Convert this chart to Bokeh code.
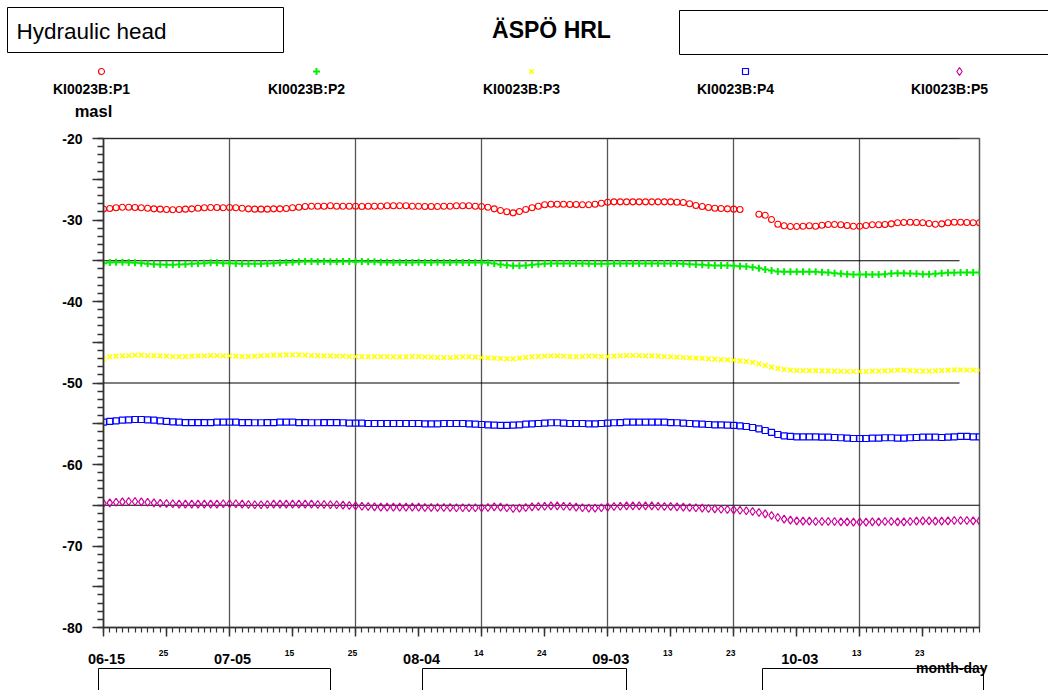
import numpy as np
import pandas as pd
from bokeh.plotting import figure
from bokeh.layouts import column
from bokeh.models import FixedTicker, Range1d, ColumnDataSource
from bokeh.core.properties import value
from bokeh.embed import file_html
from bokeh.resources import INLINE

# ---------------------------------------------------------------- data
start_date = "2003-06-15"
n_days = 140
dates = pd.date_range(start_date, periods=n_days, freq="D")

series_names = ["KI0023B:P1", "KI0023B:P2", "KI0023B:P3", "KI0023B:P4", "KI0023B:P5"]

nan = float("nan")
p1 = [-28.65, -28.59, -28.50, -28.43, -28.43, -28.47, -28.50, -28.55, -28.63, -28.67,
      -28.71, -28.75, -28.71, -28.67, -28.63, -28.55, -28.50, -28.47, -28.47, -28.50,
      -28.47, -28.50, -28.55, -28.63, -28.67, -28.67, -28.67, -28.63, -28.63, -28.59,
      -28.50, -28.43, -28.34, -28.31, -28.31, -28.31, -28.26, -28.31, -28.31, -28.31,
      -28.31, -28.34, -28.31, -28.31, -28.31, -28.26, -28.26, -28.26, -28.26, -28.31,
      -28.31, -28.34, -28.34, -28.34, -28.31, -28.31, -28.26, -28.26, -28.26, -28.31,
      -28.34, -28.43, -28.63, -28.83, -28.99, -29.12, -28.96, -28.71, -28.50, -28.31,
      -28.13, -28.06, -28.06, -28.06, -28.10, -28.10, -28.13, -28.13, -28.06, -27.94,
      -27.82, -27.77, -27.77, -27.77, -27.77, -27.77, -27.77, -27.77, -27.77, -27.77,
      -27.77, -27.82, -27.85, -28.01, -28.22, -28.34, -28.47, -28.55, -28.59, -28.63,
      -28.67, -28.71, nan, nan, -29.29, -29.41, -29.94, -30.52, -30.71, -30.80,
      -30.80, -30.76, -30.71, -30.76, -30.64, -30.55, -30.55, -30.59, -30.67, -30.76,
      -30.76, -30.67, -30.59, -30.59, -30.55, -30.47, -30.34, -30.31, -30.27, -30.31,
      -30.34, -30.43, -30.52, -30.47, -30.34, -30.27, -30.27, -30.31, -30.34, -30.34]

p2 = [-35.30, -35.21, -35.18, -35.18, -35.21, -35.25, -35.30, -35.37, -35.42, -35.46,
      -35.50, -35.50, -35.46, -35.42, -35.37, -35.34, -35.30, -35.25, -35.25, -35.30,
      -35.30, -35.34, -35.37, -35.37, -35.37, -35.37, -35.34, -35.30, -35.25, -35.21,
      -35.18, -35.13, -35.09, -35.09, -35.13, -35.09, -35.13, -35.13, -35.09, -35.09,
      -35.13, -35.09, -35.13, -35.13, -35.18, -35.18, -35.21, -35.18, -35.21, -35.21,
      -35.18, -35.21, -35.21, -35.18, -35.21, -35.21, -35.18, -35.21, -35.21, -35.21,
      -35.21, -35.25, -35.34, -35.46, -35.54, -35.62, -35.62, -35.58, -35.50, -35.42,
      -35.37, -35.34, -35.34, -35.34, -35.34, -35.34, -35.34, -35.37, -35.37, -35.37,
      -35.37, -35.34, -35.34, -35.34, -35.34, -35.34, -35.34, -35.34, -35.34, -35.34,
      -35.34, -35.34, -35.37, -35.42, -35.46, -35.50, -35.54, -35.58, -35.58, -35.58,
      -35.62, -35.67, -35.71, -35.79, -35.91, -36.07, -36.20, -36.32, -36.36, -36.36,
      -36.36, -36.36, -36.36, -36.36, -36.40, -36.44, -36.53, -36.60, -36.65, -36.69,
      -36.69, -36.69, -36.69, -36.69, -36.65, -36.56, -36.53, -36.53, -36.56, -36.60,
      -36.65, -36.65, -36.60, -36.53, -36.48, -36.48, -36.44, -36.44, -36.44, -36.44]

p3 = [-47.03, -46.79, -46.71, -46.66, -46.63, -46.59, -46.59, -46.63, -46.63, -46.66,
      -46.71, -46.75, -46.75, -46.75, -46.71, -46.66, -46.66, -46.63, -46.63, -46.66,
      -46.66, -46.71, -46.75, -46.75, -46.71, -46.66, -46.63, -46.59, -46.59, -46.54,
      -46.54, -46.54, -46.59, -46.63, -46.63, -46.66, -46.66, -46.71, -46.71, -46.75,
      -46.75, -46.75, -46.79, -46.75, -46.75, -46.75, -46.79, -46.79, -46.79, -46.75,
      -46.75, -46.79, -46.83, -46.87, -46.87, -46.87, -46.83, -46.79, -46.79, -46.83,
      -46.87, -46.91, -46.96, -46.99, -47.03, -47.03, -46.96, -46.87, -46.79, -46.75,
      -46.71, -46.66, -46.66, -46.71, -46.75, -46.79, -46.75, -46.71, -46.71, -46.75,
      -46.75, -46.71, -46.66, -46.63, -46.63, -46.63, -46.66, -46.66, -46.71, -46.75,
      -46.79, -46.83, -46.87, -46.91, -46.96, -46.99, -47.03, -47.08, -47.12, -47.15,
      -47.20, -47.28, -47.36, -47.48, -47.64, -47.85, -48.06, -48.22, -48.34, -48.43,
      -48.47, -48.47, -48.47, -48.47, -48.50, -48.50, -48.55, -48.55, -48.59, -48.59,
      -48.59, -48.59, -48.55, -48.55, -48.50, -48.47, -48.43, -48.43, -48.47, -48.50,
      -48.55, -48.55, -48.50, -48.47, -48.43, -48.38, -48.38, -48.43, -48.43, -48.43]

p4 = [-54.81, -54.72, -54.64, -54.56, -54.52, -54.48, -54.48, -54.52, -54.56, -54.64,
      -54.72, -54.76, -54.81, -54.85, -54.85, -54.85, -54.85, -54.85, -54.81, -54.81,
      -54.81, -54.81, -54.85, -54.85, -54.88, -54.88, -54.85, -54.85, -54.81, -54.81,
      -54.81, -54.85, -54.85, -54.88, -54.88, -54.85, -54.85, -54.85, -54.88, -54.93,
      -54.93, -54.93, -54.97, -54.97, -54.97, -54.97, -54.97, -54.97, -54.97, -54.97,
      -54.97, -55.01, -55.01, -55.01, -54.97, -54.97, -54.97, -54.97, -55.01, -55.05,
      -55.09, -55.13, -55.18, -55.21, -55.21, -55.18, -55.13, -55.05, -55.01, -54.97,
      -54.93, -54.88, -54.88, -54.93, -54.97, -54.97, -54.97, -55.01, -55.01, -54.97,
      -54.93, -54.88, -54.85, -54.81, -54.81, -54.81, -54.81, -54.81, -54.81, -54.81,
      -54.85, -54.88, -54.93, -54.97, -55.01, -55.05, -55.09, -55.13, -55.13, -55.18,
      -55.21, -55.25, -55.34, -55.46, -55.62, -55.83, -56.07, -56.32, -56.48, -56.56,
      -56.60, -56.60, -56.60, -56.60, -56.65, -56.65, -56.69, -56.72, -56.77, -56.81,
      -56.81, -56.81, -56.77, -56.77, -56.72, -56.72, -56.77, -56.77, -56.72, -56.69,
      -56.65, -56.65, -56.65, -56.69, -56.65, -56.60, -56.56, -56.56, -56.60, -56.60]

p5 = [-64.75, -64.70, -64.63, -64.58, -64.54, -64.54, -64.58, -64.63, -64.70, -64.75,
      -64.79, -64.82, -64.87, -64.87, -64.87, -64.87, -64.87, -64.87, -64.87, -64.82,
      -64.82, -64.82, -64.87, -64.91, -64.94, -64.94, -64.91, -64.87, -64.87, -64.87,
      -64.87, -64.87, -64.87, -64.87, -64.91, -64.91, -64.94, -64.94, -64.99, -65.03,
      -65.07, -65.12, -65.15, -65.19, -65.24, -65.24, -65.24, -65.24, -65.24, -65.24,
      -65.24, -65.28, -65.28, -65.28, -65.28, -65.28, -65.31, -65.31, -65.31, -65.31,
      -65.31, -65.28, -65.19, -65.24, -65.31, -65.40, -65.36, -65.28, -65.19, -65.15,
      -65.12, -65.07, -65.07, -65.12, -65.15, -65.24, -65.31, -65.36, -65.36, -65.31,
      -65.24, -65.15, -65.12, -65.07, -65.07, -65.07, -65.07, -65.07, -65.12, -65.15,
      -65.15, -65.19, -65.24, -65.28, -65.31, -65.36, -65.40, -65.44, -65.49, -65.52,
      -65.56, -65.61, -65.68, -65.77, -65.89, -66.05, -66.26, -66.50, -66.71, -66.83,
      -66.91, -66.95, -66.95, -66.99, -66.99, -66.99, -66.99, -67.03, -67.03, -67.08,
      -67.08, -67.08, -67.03, -67.03, -66.99, -66.99, -67.03, -67.03, -66.99, -66.95,
      -66.91, -66.91, -66.95, -66.95, -66.91, -66.87, -66.87, -66.87, -66.91, -66.91]

y_min, y_max = -80, -20
y_major_ticks = list(range(-80, -19, 5))
y_minor_ticks = list(range(-80, -19, 1))
h_lines = [-20, -35, -50, -65]

# first tick of each month gets the long "mm-dd" label, the others just the day
big_tick_labels = ["06-15", "07-05", "08-04", "09-03", "10-03"]
small_tick_labels = ["25", "15", "25", "14", "24", "13", "23", "13", "23"]

# ---------------------------------------------------------------- geometry
W, H = 1048, 690
TOP, BOTTOM = 138, 627          # plot frame, page pixels
LEFT, RIGHT = 103, 979
HEAD_H = 120                    # header strip height
FOOT_Y = 642                    # page y where the footer strip starts
FONT = "Liberation Sans"

DAY_MS = 86400000.0
t0 = dates[0].value / 1e6
t1 = dates[-1].value / 1e6
px_per_day = (RIGHT - LEFT) / ((t1 - t0) / DAY_MS)


def x_at(px):
    """time value (ms) that sits at page column px"""
    return t0 + (px - LEFT) / px_per_day * DAY_MS


def ms(d):
    return pd.Timestamp(d).value / 1e6


ten_day = pd.date_range(start_date, dates[-1], freq="10D")
twenty_day = pd.date_range(start_date, dates[-1], freq="20D")[1:]
tick_ms = [ms(d) for d in ten_day]
minor_ms = [ms(d) for d in dates]
grid_ms = [ms(d) for d in twenty_day]

big_ms, small_ms = [], []
seen_months = set()
for d in ten_day:
    if d.month not in seen_months:
        seen_months.add(d.month)
        big_ms.append(ms(d))
    else:
        small_ms.append(ms(d))

styles = [
    dict(marker="circle", size=6, line_color="#ff0000", line_width=1.1),
    dict(marker="cross", size=7, line_color="#00ee00", line_width=2),
    dict(marker="x", size=6.5, line_color="#ffff00", line_width=1.6),
    dict(marker="square", size=6, line_color="#0000ff", line_width=1.2),
    dict(marker="diamond", size=8, line_color="#cc0099", line_width=1.2),
]
values = [p1, p2, p3, p4, p5]


def strip(height, x_range, y_range):
    f = figure(width=W, height=height, x_range=x_range, y_range=y_range,
               output_backend="svg", toolbar_location=None, min_border=0)
    f.axis.visible = False
    f.grid.visible = False
    f.outline_line_color = None
    if "frame_align" in f.properties():
        f.frame_align = False
    return f


# ---------------------------------------------------------------- header strip
head = strip(HEAD_H, Range1d(0, W), Range1d(HEAD_H, 0))
head.quad(left=[7, 679], right=[283, 1060], top=[7, 10], bottom=[52, 54],
          fill_color=None, line_color="black", line_width=1)
head.text(x=[16], y=[31], text=["Hydraulic head"], text_font=value(FONT),
          text_font_size=value("22.5px"), text_align="left", text_baseline="middle",
          text_color="black")
head.text(x=[551], y=[29], text=["ÄSPÖ HRL"], text_font=value(FONT),
          text_font_size=value("23px"), text_font_style="bold", text_align="center",
          text_baseline="middle", text_color="black")

leg_label_x = [91, 306, 521, 735, 949]
for st, lx in zip(styles, leg_label_x):
    head.scatter(x=[lx + 10], y=[71], fill_color=None, **st)
head.text(x=leg_label_x, y=[88] * 5, text=series_names, text_font=value(FONT),
          text_font_size=value("14px"), text_font_style="bold", text_align="center",
          text_baseline="middle", text_color="black")
head.text(x=[93], y=[110], text=["masl"], text_font=value(FONT),
          text_font_size=value("16.5px"), text_font_style="bold", text_align="center",
          text_baseline="middle", text_color="black")

# ---------------------------------------------------------------- main plot
p = figure(width=W, height=FOOT_Y - HEAD_H, x_axis_type="datetime",
           x_range=Range1d(t0, t1), y_range=Range1d(y_min, y_max),
           output_backend="svg", toolbar_location=None,
           min_border_left=LEFT, min_border_right=W - RIGHT,
           min_border_top=TOP - HEAD_H, min_border_bottom=FOOT_Y - BOTTOM)
if "frame_align" in p.properties():
    p.frame_align = False
p.outline_line_color = "#555555"
p.outline_line_width = 1.5
p.ygrid.grid_line_color = None
p.xgrid.ticker = FixedTicker(ticks=grid_ms)
p.xgrid.grid_line_color = "#555555"
p.xgrid.grid_line_width = 1.3

yax = p.yaxis[0]
yax.ticker = FixedTicker(ticks=y_major_ticks, minor_ticks=y_minor_ticks)
yax.major_label_overrides = {t: ("" if t % 10 else str(t)) for t in y_major_ticks}
yax.major_tick_out, yax.major_tick_in = 11, 0
yax.minor_tick_out, yax.minor_tick_in = 6, 0
yax.major_label_text_font = FONT
yax.major_label_text_font_size = "14px"
yax.major_label_text_font_style = "bold"
yax.major_label_text_color = "black"
yax.major_label_standoff = 10
yax.axis_line_width = 1.5
yax.axis_line_color = "#333333"
yax.major_tick_line_color = "#333333"
yax.minor_tick_line_color = "#333333"
yax.major_tick_line_width = 1.5
yax.minor_tick_line_width = 1.5

xax = p.xaxis[0]
xax.ticker = FixedTicker(ticks=tick_ms, minor_ticks=minor_ms)
xax.major_tick_out, xax.major_tick_in = 9, 0
xax.minor_tick_out, xax.minor_tick_in = 5, 0
xax.major_label_text_color = None
xax.major_label_text_font_size = "1px"
xax.major_label_standoff = 0
xax.axis_line_width = 1.5
xax.axis_line_color = "#333333"
xax.major_tick_line_color = "#333333"
xax.minor_tick_line_color = "#333333"
xax.major_tick_line_width = 1.5
xax.minor_tick_line_width = 1.2

# horizontal reference lines
h_end = [x_at(959) if v != -65 else t1 for v in h_lines]
p.segment(x0=[t0] * len(h_lines), y0=h_lines, x1=h_end, y1=h_lines,
          line_color="black", line_width=1)

for st, vals in zip(styles, values):
    src = ColumnDataSource(dict(x=dates, y=vals))
    p.scatter("x", "y", source=src, fill_color=None, **st)

# ---------------------------------------------------------------- footer strip
foot = strip(H - FOOT_Y, Range1d(x_at(0), x_at(W)), Range1d(H, FOOT_Y))
foot.text(x=big_ms, y=[658] * len(big_ms), text=big_tick_labels, x_offset=3,
          text_font=value(FONT), text_font_size=value("14.5px"), text_font_style="bold",
          text_align="center", text_baseline="middle", text_color="black")
foot.text(x=small_ms, y=[652] * len(small_ms), text=small_tick_labels, x_offset=-3,
          text_font=value(FONT), text_font_size=value("8.5px"), text_font_style="bold",
          text_align="center", text_baseline="middle", text_color="black")
box_l = [x_at(v) for v in (98, 422, 762)]
box_r = [x_at(v) for v in (330, 626, 983)]
foot.quad(left=box_l, right=box_r, top=[668] * 3, bottom=[700] * 3,
          fill_color=None, line_color="black", line_width=1)
foot.text(x=[x_at(987)], y=[667], text=["month-day"], text_font=value(FONT),
          text_font_size=value("14px"), text_font_style="bold", text_align="right",
          text_baseline="middle", text_color="black")

layout = column(head, p, foot, spacing=0)
open("out.html", "w").write(file_html(layout, INLINE))
